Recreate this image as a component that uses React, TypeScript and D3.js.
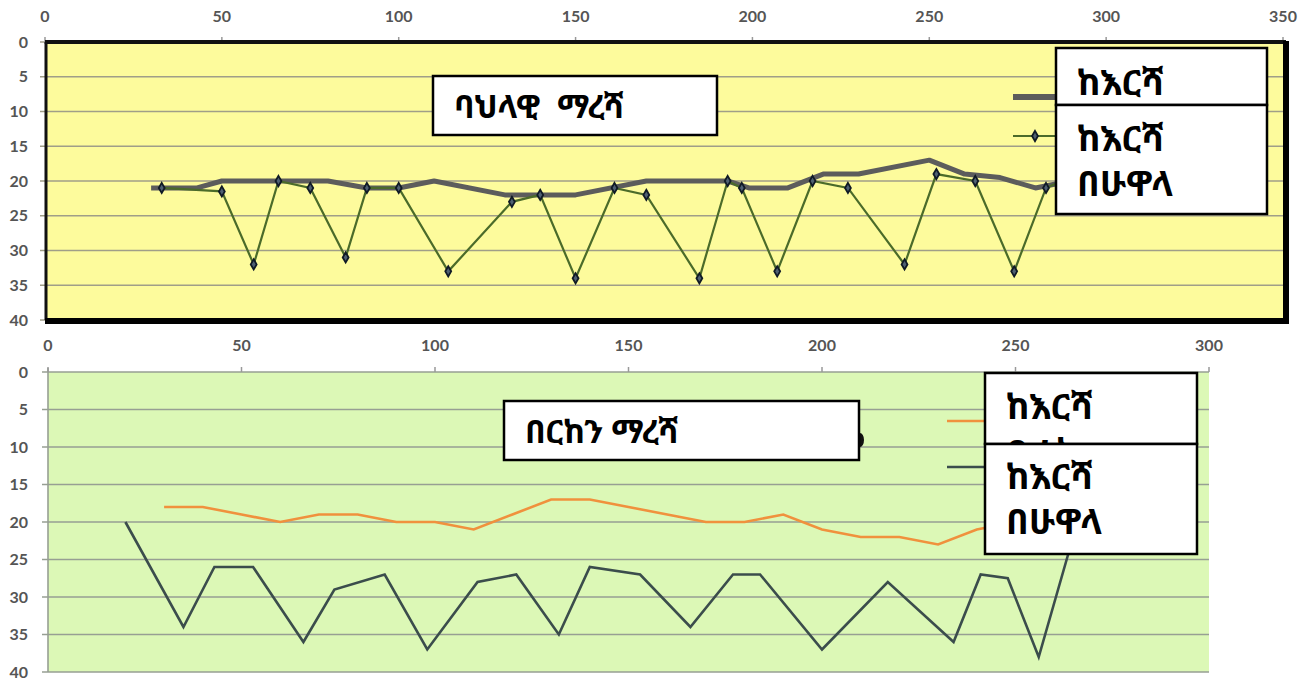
import * as d3 from "d3";

// top chart (ባህላዊ ማረሻ)
const topBeforeX = [30, 43, 50, 80, 91, 100, 110, 130, 150, 170, 193, 199, 210, 220, 230, 250, 260, 270, 280, 290];
const topBeforeY = [21, 21, 20, 20, 21, 21, 20, 22, 22, 20, 20, 21, 21, 19, 19, 17, 19, 19.5, 21, 20];
const topAfterX = [33, 50, 59, 66, 75, 85, 91, 100, 114, 132, 140, 150, 161, 170, 185, 193, 197, 207, 217, 227, 243, 252, 263, 274, 283, 292];
const topAfterY = [21, 21.5, 32, 20, 21, 31, 21, 21, 33, 23, 22, 34, 21, 22, 34, 20, 21, 33, 20, 21, 32, 19, 20, 33, 21, 19];

// bottom chart (በርከን ማረሻ)
const botBeforeX = [30, 40, 50, 60, 70, 80, 90, 100, 110, 120, 130, 140, 150, 160, 170, 180, 190, 200, 210, 220, 230, 240, 250];
const botBeforeY = [18, 18, 19, 20, 19, 19, 20, 20, 21, 19, 17, 17, 18, 19, 20, 20, 19, 21, 22, 22, 23, 21, 20];
const botAfterX = [20, 35, 43, 53, 66, 74, 87, 98, 111, 121, 132, 140, 153, 166, 177, 184, 200, 217, 234, 241, 248, 256, 266];
const botAfterY = [20, 34, 26, 26, 36, 29, 27, 37, 28, 27, 35, 26, 27, 34, 27, 27, 37, 28, 36, 27, 27.5, 38, 20];

const topXTicks = [0, 50, 100, 150, 200, 250, 300, 350];
const botXTicks = [0, 50, 100, 150, 200, 250, 300];
const yTicks = [0, 5, 10, 15, 20, 25, 30, 35, 40];

const topTitle = "ባህላዊ  ማረሻ";
const botTitle = "በርከን ማረሻ";
const legendBefore = ["ከእርሻ", "በፊት"];
const legendAfter = ["ከእርሻ", "በሁዋላ"];

const labelFont = "Lato, 'Open Sans', sans-serif";
const ethFont = "'Noto Sans Ethiopic', 'Abyssinica SIL', 'DejaVu Sans', sans-serif";

const zip = (xs: number[], ys: number[]) => xs.map((x, i) => [x, ys[i]] as [number, number]);

const App = () => {
    const width = 1316;
    const height = 681;

    const xTop = d3.scaleLinear().domain([0, 350]).range([45, 1283]);
    const yTop = d3.scaleLinear().domain([0, 40]).range([42, 320]);
    const xBot = d3.scaleLinear().domain([0, 300]).range([48, 1209]);
    const yBot = d3.scaleLinear().domain([0, 40]).range([372, 672]);

    const lineTop = d3.line<[number, number]>().x((d) => xTop(d[0])).y((d) => yTop(d[1]));
    const lineBot = d3.line<[number, number]>().x((d) => xBot(d[0])).y((d) => yBot(d[1]));
    const diamond = d3.symbol(d3.symbolDiamond, 30)() as string;

    const topAfter = zip(topAfterX, topAfterY);

    // white text box, lines clipped to the box like the original callouts
    const box = (x: number, y: number, w: number, h: number, lines: string[], base: number, step: number, size: number, clipId: string) => (
        <g>
            <clipPath id={clipId}>
                <rect x={x} y={y} width={w} height={h} />
            </clipPath>
            <rect x={x} y={y} width={w} height={h} fill="#fff" stroke="#000" strokeWidth={2.5} />
            <g clipPath={`url(#${clipId})`}>
                {lines.map((t, i) => (
                    <text key={i} x={x + 21} y={base + i * step} fontFamily={ethFont} fontWeight="bold" fontSize={size} fill="#000" style={{ whiteSpace: "pre" }}>
                        {t}
                    </text>
                ))}
            </g>
        </g>
    );

    return (
        <svg width={width} height={height} style={{ position: "absolute", left: 0, top: 0, background: "#fff" }}>
            {/* ---------- top chart ---------- */}
            <rect x={xTop(0)} y={yTop(0)} width={xTop(350) - xTop(0)} height={yTop(40) - yTop(0)} fill="#fdfb9c" />
            {yTicks.map((t) => (
                <g key={`tg${t}`}>
                    <line x1={xTop(0) - 5} x2={xTop(350)} y1={yTop(t)} y2={yTop(t)} stroke="#a09e88" strokeWidth={1.6} />
                    <text x={28} y={yTop(t)} dy="0.35em" textAnchor="end" fontFamily={labelFont} fontWeight="bold" fontSize={16} fill="#555">
                        {t}
                    </text>
                </g>
            ))}
            {topXTicks.map((t) => (
                <g key={`tx${t}`}>
                    <line x1={xTop(t)} x2={xTop(t)} y1={yTop(0) - 5} y2={yTop(0) + 2} stroke="#999" strokeWidth={1.5} />
                    <text x={xTop(t)} y={16} dy="0.35em" textAnchor="middle" fontFamily={labelFont} fontWeight="bold" fontSize={16} fill="#555">
                        {t}
                    </text>
                </g>
            ))}
            {/* frame */}
            <line x1={xTop(0)} x2={xTop(350) + 3} y1={yTop(0)} y2={yTop(0)} stroke="#111" strokeWidth={4} />
            <line x1={xTop(0) + 1} x2={xTop(0) + 1} y1={yTop(0)} y2={yTop(40)} stroke="#111" strokeWidth={3} />
            <line x1={xTop(0)} x2={xTop(350) + 6} y1={yTop(40) + 1} y2={yTop(40) + 1} stroke="#000" strokeWidth={6} />
            <line x1={xTop(350) + 3} x2={xTop(350) + 3} y1={yTop(0) - 1} y2={yTop(40) + 4} stroke="#000" strokeWidth={6} />

            <path d={lineTop(zip(topBeforeX, topBeforeY)) as string} fill="none" stroke="#5c5c5c" strokeWidth={5} strokeLinejoin="round" />
            <path d={lineTop(topAfter) as string} fill="none" stroke="#4b6b2a" strokeWidth={2.2} />
            {topAfter.slice(0, -1).map((d, i) => (
                <path key={`m${i}`} d={diamond} transform={`translate(${xTop(d[0])},${yTop(d[1])})`} fill="#4f6072" stroke="#101a26" strokeWidth={1.8} />
            ))}

            {/* top legend */}
            <line x1={1013} x2={1058} y1={97} y2={97} stroke="#5c5c5c" strokeWidth={6} />
            <line x1={1013} x2={1058} y1={136} y2={136} stroke="#4b6b2a" strokeWidth={2.2} />
            <path d={diamond} transform="translate(1035,136)" fill="#4f6072" stroke="#101a26" strokeWidth={1.8} />
            {box(1056, 48, 211, 57, legendBefore.slice(0, 1), 95, 46, 35, "clipT1")}
            {box(1056, 105, 211, 109, legendAfter, 151, 45, 35, "clipT2")}
            {box(433, 76, 284, 59, [topTitle], 118, 0, 32, "clipT3")}

            {/* ---------- bottom chart ---------- */}
            <rect x={xBot(0)} y={yBot(0)} width={xBot(300) - xBot(0)} height={yBot(40) - yBot(0)} fill="#dcf8b6" />
            {yTicks.map((t) => (
                <g key={`bg${t}`}>
                    <line x1={xBot(0) - 6} x2={xBot(300)} y1={yBot(t)} y2={yBot(t)} stroke="#979f93" strokeWidth={1.6} />
                    <text x={28} y={yBot(t)} dy="0.35em" textAnchor="end" fontFamily={labelFont} fontWeight="bold" fontSize={16} fill="#555">
                        {t}
                    </text>
                </g>
            ))}
            <line x1={xBot(0)} x2={xBot(0)} y1={yBot(0) - 4} y2={yBot(40)} stroke="#979f93" strokeWidth={1.6} />
            {botXTicks.map((t) => (
                <g key={`bx${t}`}>
                    <line x1={xBot(t)} x2={xBot(t)} y1={yBot(0) - 5} y2={yBot(0)} stroke="#999" strokeWidth={1.5} />
                    <text x={xBot(t)} y={345} dy="0.35em" textAnchor="middle" fontFamily={labelFont} fontWeight="bold" fontSize={16} fill="#555">
                        {t}
                    </text>
                </g>
            ))}
            <path d={lineBot(zip(botBeforeX, botBeforeY)) as string} fill="none" stroke="#f0913d" strokeWidth={2.6} />
            <path d={lineBot(zip(botAfterX, botAfterY)) as string} fill="none" stroke="#3b4d4c" strokeWidth={2.6} />

            {/* bottom legend */}
            <line x1={947} x2={986} y1={421} y2={421} stroke="#f0913d" strokeWidth={2.6} />
            <line x1={947} x2={986} y1={467} y2={467} stroke="#3b4d4c" strokeWidth={2.6} />
            <ellipse cx={860} cy={440} rx={4} ry={7} fill="#111" />
            {box(504, 401, 355, 59, [botTitle], 443, 0, 32, "clipB3")}
            {box(985, 373, 212, 71, legendBefore, 419, 46, 35, "clipB1")}
            {box(985, 444, 212, 110, legendAfter, 489, 45, 35, "clipB2")}
        </svg>
    );
};

export default App;
